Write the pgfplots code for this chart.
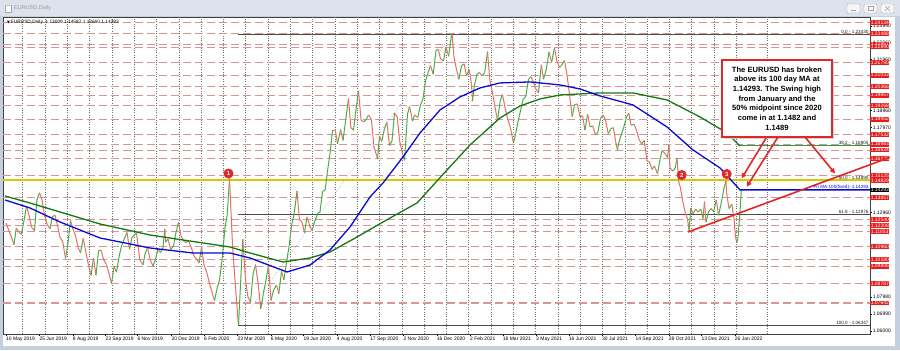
\documentclass[border=0pt]{standalone}
\usepackage{pgfplots}
\usepackage{pgfplotstable}
\pgfplotsset{compat=1.18}
\usepackage{fontspec}
\setmainfont{Liberation Sans}
\newfontfamily\dejavu{DejaVu Sans}
\usetikzlibrary{arrows.meta}

\definecolor{framecol}{RGB}{196,208,222}
\definecolor{titlecol}{RGB}{220,227,236}
\definecolor{cup}{RGB}{70,175,70}
\definecolor{cdn}{RGB}{232,110,100}
\definecolor{dashcol}{RGB}{212,150,150}
\definecolor{labred}{RGB}{228,28,28}
\definecolor{maBlue}{RGB}{10,10,210}
\definecolor{maGreen}{RGB}{20,120,20}
\definecolor{fibGreen}{RGB}{60,150,60}
\definecolor{fibYellow}{RGB}{215,200,0}
\definecolor{annRed}{RGB}{225,40,40}
\definecolor{gridcol}{RGB}{110,110,110}

\pgfplotstableread{
x y m
6.0 1.1235 0
11.1 1.1157 0
14.0 1.1107 1
16.3 1.1205 0
19.0 1.1180 0
21.4 1.1168 1
24.0 1.1250 1
26.6 1.1334 0
29.0 1.1280 0
31.7 1.1209 0
34.5 1.1190 1
36.9 1.1370 1
39.5 1.1412 0
42.0 1.1370 0
44.5 1.1280 0
47.2 1.1226 0
50.0 1.1200 1
52.3 1.1271 1
55.0 1.1280 0
57.5 1.1220 0
60.0 1.1150 0
62.6 1.1128 0
65.5 1.1027 1
67.8 1.1108 1
70.5 1.1250 0
72.9 1.1200 0
75.5 1.1160 0
78.1 1.1090 0
80.5 1.1060 1
83.2 1.1144 0
86.0 1.1060 0
88.4 1.0990 0
91.0 1.0926 1
93.5 1.1027 0
96.0 1.0927 1
98.6 1.1073 1
101.0 1.1075 0
103.8 1.1017 0
106.5 1.0990 0
108.9 1.0940 0
111.5 1.0879 1
114.1 1.0978 0
116.5 1.0945 1
119.2 1.1040 1
121.5 1.1100 1
124.4 1.1143 1
127.0 1.1179 0
129.5 1.1080 1
132.0 1.1150 1
134.7 1.1166 1
136.5 1.1175 0
139.8 1.1018 0
143.0 1.0989 1
145.0 1.1052 1
147.5 1.1090 0
150.1 1.1020 0
153.0 1.0981 1
155.3 1.1017 1
158.0 1.1080 0
160.4 1.1060 1
163.0 1.1090 1
164.8 1.1200 0
165.6 1.1122 1
168.0 1.1140 0
170.7 1.1079 1
173.5 1.1100 1
175.9 1.1177 1
178.5 1.1239 0
181.0 1.1160 0
183.5 1.1130 0
186.1 1.1120 1
188.5 1.1130 0
191.3 1.1090 0
194.0 1.1040 0
196.4 1.1025 0
199.0 1.1000 1
201.6 1.1093 0
204.0 1.0990 0
206.7 1.0945 0
209.5 1.0880 0
211.9 1.0830 0
214.5 1.0778 1
217.0 1.0848 1
219.5 1.0900 1
222.2 1.1026 1
225.0 1.1210 1
227.3 1.1284 1
229.5 1.1495 0
232.5 1.1105 0
235.0 1.0900 0
237.6 1.0693 0
238.5 1.0636 1
242.8 1.1140 0
245.5 1.0900 0
247.9 1.0800 0
250.5 1.0770 1
253.1 1.0935 1
255.5 1.0990 0
258.2 1.0875 0
260.8 1.0730 1
263.4 1.0820 1
266.0 1.0900 1
268.5 1.0982 0
271.0 1.0780 1
273.6 1.0840 1
276.5 1.0870 0
278.8 1.0819 1
281.5 1.0950 0
283.9 1.0900 1
286.5 1.1000 1
289.1 1.1100 1
291.5 1.1220 1
294.2 1.1290 1
297.0 1.1422 0
299.4 1.1255 0
302.0 1.1240 0
304.5 1.1176 1
307.0 1.1270 0
309.7 1.1219 0
312.0 1.1190 1
314.8 1.1245 1
317.5 1.1290 1
320.0 1.1300 1
322.5 1.1420 1
325.1 1.1428 1
327.5 1.1540 1
330.3 1.1655 1
332.5 1.1780 0
335.4 1.1778 0
337.5 1.1700 1
340.6 1.1785 0
343.0 1.1720 1
345.7 1.1842 1
348.5 1.1966 0
350.8 1.1797 0
353.5 1.1780 1
356.0 1.1903 1
358.5 1.2011 0
361.1 1.1838 0
364.0 1.1830 1
366.3 1.1845 1
368.5 1.1870 0
371.4 1.1844 0
374.0 1.1680 0
376.6 1.1632 0
377.5 1.1612 1
379.5 1.1745 0
381.7 1.1715 1
384.5 1.1790 1
386.9 1.1826 0
389.5 1.1690 1
392.0 1.1718 1
394.5 1.1880 0
397.2 1.1860 0
399.5 1.1720 0
402.3 1.1647 0
404.5 1.1603 1
407.5 1.1875 1
409.5 1.1920 0
412.6 1.1834 1
414.5 1.1870 0
417.8 1.1855 1
420.5 1.1930 1
422.9 1.1962 1
425.5 1.2070 1
428.1 1.2120 1
430.5 1.2160 0
433.2 1.2110 1
436.0 1.2250 1
438.3 1.2255 0
440.5 1.2200 0
443.5 1.2187 1
446.0 1.2270 0
448.6 1.2215 1
450.5 1.2300 1
452.0 1.2349 0
453.8 1.2220 0
456.0 1.2150 0
458.9 1.2080 1
461.5 1.2160 1
464.1 1.2170 0
466.5 1.2100 1
469.2 1.2136 0
471.5 1.2050 0
472.5 1.1952 1
474.4 1.2045 1
477.0 1.2110 1
479.5 1.2120 0
482.0 1.2100 1
484.7 1.2120 1
487.5 1.2243 0
489.8 1.2075 0
492.5 1.2000 0
495.0 1.1915 0
497.5 1.1840 1
500.1 1.1950 1
502.5 1.1990 0
505.3 1.1905 0
508.0 1.1840 0
510.4 1.1795 0
513.5 1.1704 1
515.6 1.1760 1
518.0 1.1830 1
520.7 1.1900 1
523.0 1.1960 1
525.8 1.1980 1
528.5 1.2080 1
531.0 1.2095 0
533.5 1.2060 0
536.1 1.2020 0
538.5 1.2000 1
541.3 1.2165 0
543.5 1.2080 1
546.4 1.2140 1
549.0 1.2240 0
551.6 1.2180 1
554.5 1.2266 0
556.7 1.2190 0
559.5 1.2150 1
561.9 1.2165 1
564.5 1.2190 0
567.0 1.2105 0
569.5 1.1990 0
572.2 1.1860 1
574.5 1.1930 1
577.3 1.1935 0
580.0 1.1860 1
582.5 1.1865 0
585.0 1.1780 1
587.6 1.1875 0
590.0 1.1800 1
592.8 1.1805 0
595.5 1.1752 1
597.9 1.1770 1
600.5 1.1850 1
603.1 1.1870 0
605.5 1.1840 0
608.2 1.1760 1
611.0 1.1790 1
613.4 1.1795 0
616.0 1.1700 0
617.5 1.1664 1
618.5 1.1700 1
621.0 1.1750 1
623.6 1.1795 1
626.5 1.1860 1
628.8 1.1880 0
631.0 1.1810 1
633.9 1.1815 0
636.5 1.1780 0
639.1 1.1725 0
641.5 1.1700 1
644.2 1.1720 0
647.0 1.1600 0
649.4 1.1595 0
652.0 1.1550 1
654.5 1.1570 0
657.5 1.1524 1
659.7 1.1600 1
662.0 1.1660 0
664.8 1.1645 0
667.5 1.1620 1
668.8 1.1692 0
670.0 1.1560 0
672.5 1.1540 1
675.1 1.1555 1
677.0 1.1616 0
678.5 1.1480 0
680.3 1.1445 0
682.5 1.1370 0
685.4 1.1290 0
687.5 1.1260 0
689.1 1.1186 1
690.6 1.1320 0
693.0 1.1290 1
695.7 1.1315 0
698.0 1.1300 1
700.9 1.1315 0
703.0 1.1260 1
704.5 1.1360 0
706.0 1.1240 1
708.5 1.1300 1
711.2 1.1320 0
713.5 1.1300 1
716.3 1.1370 0
718.5 1.1280 1
721.5 1.1360 1
724.0 1.1440 1
726.0 1.1482 0
726.6 1.1410 0
729.0 1.1320 1
731.8 1.1345 0
734.0 1.1260 0
735.5 1.1150 0
736.9 1.1121 1
738.0 1.1150 1
740.0 1.1300 1
741.3 1.14293 1
}\pricedata

\pgfplotstableread{
x y
5 1.13935
30 1.13523
60 1.12994
100 1.12288
150 1.11641
183 1.11347
230 1.10935
250 1.10582
283 1.10053
310 1.10288
330 1.10641
357 1.11523
383 1.12406
417 1.13523
447 1.15465
470 1.16935
500 1.18523
520 1.19229
540 1.19641
560 1.19876
600 1.19994
633 1.19994
667 1.19582
700 1.18582
727 1.17641
740 1.16876
}\maTwoHundred

\pgfplotstableread{
x y
5 1.13700
30 1.13229
60 1.12406
100 1.11465
150 1.10876
193 1.10582
230 1.10582
250 1.10288
287 1.09465
310 1.09876
330 1.10759
350 1.12112
370 1.13876
383 1.14700
403 1.16229
420 1.17641
440 1.18994
460 1.19759
480 1.20288
500 1.20582
530 1.20641
560 1.20465
580 1.20229
600 1.19818
633 1.19288
667 1.17994
693 1.16641
720 1.15582
740 1.14293
870 1.14293
}\maHundred

\begin{document}
\begin{tikzpicture}
% background frame: pixel (X,Y) of the reference is at (X, 350-Y) in this scope
\begin{scope}[x=1bp, y=1bp, shift={(-3bp,-16bp)}]
\fill[framecol] (0,0) rectangle (900,350);
\fill[titlecol] (0,334) rectangle (900,350);
\fill[white] (3,4) rectangle (895,333);
\draw[gray!70, fill=white] (5,338) rectangle (11,345);
\fill[gray!50] (5,343.5) rectangle (11,345);
\node[anchor=west, font=\fontsize{5.5}{6}\selectfont, text=gray!80, inner sep=0] at (14,341.5) {EURUSD,Daily};
\foreach \bx in {847,864,881}{
  \draw[gray!60, fill=white!92!gray, rounded corners=1bp] (\bx,337) rectangle (\bx+13,346);
}
\draw[gray!70, line width=0.6bp] (851,340) -- (856,340);
\draw[gray!70, line width=0.5bp] (868,339.5) rectangle (873,343.5);
\draw[gray!70, line width=0.5bp] (885,339) -- (890,344) (885,344) -- (890,339);
\end{scope}

\begin{axis}[
  scale only axis,
  width=867bp, height=317bp,
  xmin=3, xmax=870, ymin=1.05818, ymax=1.2446,
  clip=false,
  axis line style={gray!50!black, line width=0.6bp},
  tick style={black, line width=0.4bp},
  tick align=outside, major tick length=2bp,
  xtick pos=bottom, ytick pos=right, yticklabel pos=right,
  xtick={6,39.3,72.7,105.3,137.3,171.3,204,237.3,270.7,303.3,336.7,370,403.3,436.7,470,502.7,536,568.7,602,635.3,668.7,701.3,734.7},
  xticklabels={10 May 2019,25 Jun 2019,8 Aug 2019,23 Sep 2019,6 Nov 2019,20 Dec 2019,6 Feb 2020,23 Mar 2020,6 May 2020,19 Jun 2020,4 Aug 2020,17 Sep 2020,2 Nov 2020,16 Dec 2020,2 Feb 2021,18 Mar 2021,3 May 2021,16 Jun 2021,30 Jul 2021,14 Sep 2021,28 Oct 2021,13 Dec 2021,26 Jan 2022},
  xticklabel style={font=\fontsize{5}{6}\selectfont, anchor=north west, inner sep=0.5bp, xshift=-0.5bp},
  ytick={1.06,1.0699,1.0798,1.1296,1.1797,1.1896,1.2196,1.2296,1.2394},
  yticklabels={1.06000,1.06990,1.07980,1.12960,1.17970,1.18960,1.21960,1.22960,1.23940},
  yticklabel style={font=\fontsize{5}{6}\selectfont, anchor=west, inner sep=0.6bp},
  extra y ticks={1.24134,1.23488,1.22857,1.22690,1.21790,1.21033,1.20366,1.19857,1.19268,1.18452,1.17532,1.16983,1.16634,1.16135,1.15125,1.14829,1.13857,1.12540,1.12208,1.11853,1.10960,1.10180,1.09806,1.08787,1.07642},
  extra y tick labels={1.24134,1.23488,1.22857,1.22690,1.21790,1.21033,1.20366,1.19857,1.19268,1.18452,1.17532,1.16983,1.16634,1.16135,1.15125,1.14829,1.13857,1.12540,1.12208,1.11853,1.10960,1.10180,1.09806,1.08787,1.07642},
  extra y tick style={grid=major, major grid style={dashcol, line width=1.1bp, dash pattern=on 8bp off 4bp}, major tick length=0pt,
     yticklabel style={fill=labred, text=white, inner sep=0.6bp}},
  extra x ticks={22.7,45.0,67.3,89.6,111.9,134.2,156.5,178.8,201.1,223.4,245.7,268.0,290.3,312.6,334.9,357.2,379.5,401.8,424.1,446.4,468.7,491.0,513.3,535.6,557.9,580.2,602.5,624.8,647.1,669.4,691.7,714.0,736.3,767.0},
  extra x tick labels={},
  extra x tick style={grid=major, major grid style={gridcol, line width=0.5bp, dash pattern=on 0.8bp off 1.6bp}, major tick length=0pt},
]
% Fibonacci retracement
\addplot[gray!70, line width=0.5bp, dash pattern=on 0.8bp off 1.6bp] coordinates {(238,1.06347) (452,1.2343)};
\addplot[gray!60!black, line width=0.6bp] coordinates {(238,1.2343) (870,1.2343)};
\addplot[gray!60!black, line width=0.8bp] coordinates {(238,1.12876) (870,1.12876)};
\addplot[gray!60!black, line width=0.6bp] coordinates {(238,1.06347) (870,1.06347)};
\addplot[fibYellow, line width=1.6bp] coordinates {(3,1.1489) (870,1.1489)};
\addplot[fibGreen, line width=1.3bp] coordinates {(738,1.16905) (870,1.16905)};
% price
\addplot[mesh, shader=flat corner, point meta=explicit, point meta min=0, point meta max=1,
  colormap={updown}{color=(cdn) color=(cup)}, line width=1.0bp, line join=round]
  table[x=x, y=y, meta=m] {\pricedata};
% moving averages
\addplot[maGreen, line width=1.3bp] table[x=x,y=y] {\maTwoHundred};
\addplot[maBlue, line width=1.3bp] table[x=x,y=y] {\maHundred};
% trend line
\addplot[annRed, line width=1.6bp] coordinates {(688,1.11817) (890,1.16210)};
% labels of levels
\node[anchor=south east, inner sep=0.4bp, font=\fontsize{4.6}{5}\selectfont, text=gray!20!black] at (axis cs:869,1.2343) {0.0 - 1.23430};
\node[anchor=south east, inner sep=0.4bp, font=\fontsize{4.6}{5}\selectfont, text=gray!20!black] at (axis cs:869,1.16905) {38.2 - 1.16905};
\node[anchor=south east, inner sep=0.4bp, font=\fontsize{4.6}{5}\selectfont, text=gray!20!black] at (axis cs:869,1.1489) {50.0 - 1.14890};
\node[anchor=south east, inner sep=0.4bp, font=\fontsize{4.6}{5}\selectfont, text=gray!20!black] at (axis cs:869,1.12876) {61.8 - 1.12876};
\node[anchor=south east, inner sep=0.4bp, font=\fontsize{4.6}{5}\selectfont, text=gray!20!black] at (axis cs:869,1.06347) {100.0 - 1.06347};
\node[anchor=south east, inner sep=0.4bp, font=\fontsize{4.6}{5}\selectfont, text=maBlue] at (axis cs:869,1.14293) {Fri MA-100(fixed)- 1.14293};
% current price label
\node[anchor=west, fill=black, text=white, inner sep=0.6bp, font=\fontsize{5}{6}\selectfont] at (axis cs:870,1.14293) {1.14293};
\end{axis}

\begin{scope}[x=1bp, y=1bp, shift={(-3bp,-16bp)}]
% header
\node[anchor=west, inner sep=0, font=\fontsize{4.8}{5}\selectfont] at (7,327.3) {{\dejavu\fontsize{3.6}{4}\selectfont ▼}\,EURUSD,Daily\ \ 1.13009 1.14587 1.12660 1.14293};
% numbered markers
\node[circle, fill=annRed, text=white, font=\bfseries\fontsize{6}{6}\selectfont, minimum size=10bp, inner sep=0] at (228.5,176.5) {1};
\node[circle, fill=annRed, text=white, font=\bfseries\fontsize{6}{6}\selectfont, minimum size=10bp, inner sep=0] at (681.7,175) {2};
\node[circle, fill=annRed, text=white, font=\bfseries\fontsize{6}{6}\selectfont, minimum size=10bp, inner sep=0] at (726.7,176) {3};
% text box
\fill[gray!35] (724,211) rectangle (834,289);
\node[draw=annRed, line width=1.2bp, fill=white, minimum width=110bp, minimum height=77bp, align=center, inner sep=1bp,
  font=\bfseries\fontsize{7.6}{9.7}\selectfont] at (777,251.5)
  {The EURUSD has broken\\above its 100 day MA at\\1.14293. The Swing high\\from January and the\\50\% midpoint since 2020\\come in at 1.1482 and\\1.1489};
% arrows
\draw[annRed, line width=1.6bp, -{Triangle[length=5bp,width=5bp]}] (766.7,213) -- (741.7,171.7);
\draw[annRed, line width=1.6bp, -{Triangle[length=5bp,width=5bp]}] (778,213) -- (746.7,163.3);
\draw[annRed, line width=1.6bp, -{Triangle[length=5bp,width=5bp]}] (805,213) -- (835,176.7);
\pgfresetboundingbox
\path[use as bounding box] (0,0) rectangle (900,350);
\end{scope}
\end{tikzpicture}
\end{document}
